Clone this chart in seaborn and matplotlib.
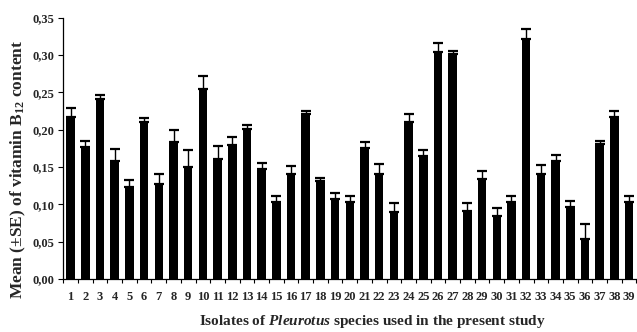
import numpy as np
import pandas as pd
import matplotlib
matplotlib.use("Agg")
import matplotlib.pyplot as plt
from matplotlib.ticker import FuncFormatter, MultipleLocator, FixedLocator
import seaborn as sns

isolates = [str(i) for i in range(1, 40)]
means = [0.217, 0.177, 0.241, 0.158, 0.1235, 0.2105, 0.127, 0.184, 0.150, 0.254,
         0.1606, 0.180, 0.2008, 0.147, 0.1035, 0.140, 0.2205, 0.1306, 0.1066, 0.1035,
         0.1756, 0.1405, 0.090, 0.2106, 0.164, 0.304, 0.301, 0.0905, 0.1338, 0.0838,
         0.1034, 0.321, 0.1405, 0.1575, 0.0967, 0.053, 0.1807, 0.2173, 0.1034]
se = [0.0115, 0.008, 0.0055, 0.016, 0.0085, 0.005, 0.014, 0.016, 0.022, 0.018,
      0.017, 0.010, 0.0054, 0.008, 0.008, 0.011, 0.005, 0.005, 0.009, 0.008,
      0.0084, 0.014, 0.011, 0.010, 0.008, 0.0115, 0.0045, 0.0115, 0.0112, 0.0112,
      0.008, 0.014, 0.0115, 0.0085, 0.008, 0.0207, 0.0044, 0.008, 0.008]

df = pd.DataFrame({"isolate": isolates, "mean": means, "se": se})

sns.set_theme(style="white")
plt.rcParams["font.family"] = ["Liberation Serif", "DejaVu Serif"]
plt.rcParams["font.weight"] = "bold"
plt.rcParams["mathtext.fontset"] = "custom"
plt.rcParams["mathtext.rm"] = "Liberation Serif:bold"
plt.rcParams["mathtext.it"] = "Liberation Serif:italic:bold"
plt.rcParams["mathtext.bf"] = "Liberation Serif:bold"

fig = plt.figure(figsize=(6.37, 3.32), dpi=100)
ax = fig.add_axes([0.0994, 0.160, 0.8996, 0.787])

sns.barplot(data=df, x="isolate", y="mean", order=isolates, color="black",
            width=0.58, errorbar=None, edgecolor="black", linewidth=0, ax=ax,
            saturation=1)

pos = np.arange(len(isolates))
ax.errorbar(pos, df["mean"], yerr=[np.zeros(len(se)), df["se"]], fmt="none",
            ecolor="black", elinewidth=1.0, capsize=3.3, capthick=1.6)

ax.set_xlim(-0.5, len(isolates) - 0.5)
ax.set_ylim(0, 0.35)
ax.yaxis.set_major_locator(MultipleLocator(0.05))
ax.yaxis.set_major_formatter(FuncFormatter(lambda v, p: f"{v:.2f}".replace(".", ",")))

ax.xaxis.set_minor_locator(FixedLocator(np.arange(len(isolates) + 1) - 0.5))
ax.tick_params(axis="x", which="major", length=0, pad=9, labelsize=9)
ax.tick_params(axis="x", which="minor", length=3, width=0.8, color="black", direction="out", bottom=True)
ax.tick_params(axis="y", which="major", length=3.5, width=0.8, color="black", direction="out", left=True, labelsize=9, pad=3)

for lab in ax.get_xticklabels() + ax.get_yticklabels():
    lab.set_fontweight("bold")

for s in ["top", "right"]:
    ax.spines[s].set_visible(False)
for s in ["left", "bottom"]:
    ax.spines[s].set_color("black")
    ax.spines[s].set_linewidth(0.9)

ax.set_xlabel("Isolates of $\\mathit{Pleurotus}$ species used in the present study",
              fontsize=11, fontweight="bold")
ax.xaxis.set_label_coords(0.54, -0.130)
ax.set_ylabel("Mean (±SE) of vitamin B$_{12}$ content", fontsize=12.5, fontweight="bold")
ax.yaxis.set_label_coords(-0.0616, 0.418)

fig.savefig("out.png", dpi=100)
